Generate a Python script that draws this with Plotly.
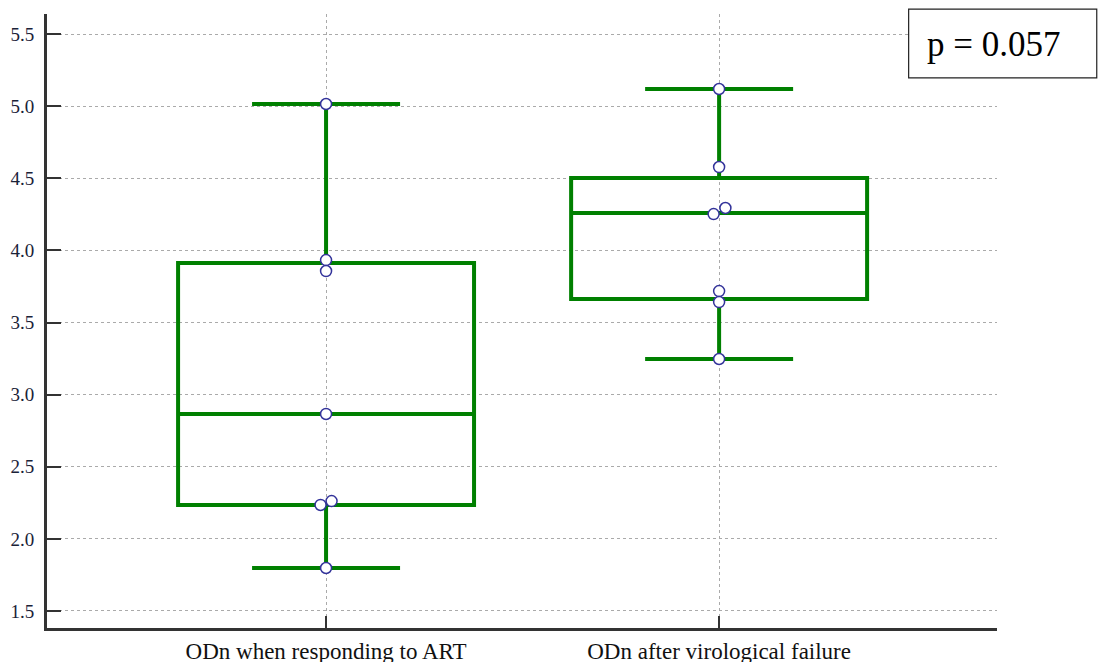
import plotly.graph_objects as go

categories = ["ODn when responding to ART", "ODn after virological failure"]

# observed values
resp_values = [5.015, 3.933, 3.857, 2.866, 2.262, 2.235, 1.798]
fail_values = [5.119, 4.578, 4.294, 4.252, 3.718, 3.642, 3.247]

# box statistics (as drawn)
q1 = [2.235, 3.663]
median = [2.866, 4.259]
q3 = [3.912, 4.502]
lower_fence = [1.798, 3.247]
upper_fence = [5.015, 5.119]

# small horizontal nudges for overlapping points (in category units)
resp_dx = [0, 0, 0, 0, 0.014, -0.014, 0]
fail_dx = [0, 0, 0.016, -0.014, 0, 0, 0]

p_text = "p = 0.057"

GREEN = "#008000"
SERIF = "Liberation Serif, Times New Roman, serif"

fig = go.Figure()

fig.add_trace(go.Box(
    x=[0, 1],
    q1=q1, median=median, q3=q3,
    lowerfence=lower_fence, upperfence=upper_fence,
    width=0.753,
    whiskerwidth=0.5,
    fillcolor="rgba(0,0,0,0)",
    line=dict(color=GREEN, width=4),
    boxpoints=False,
    showlegend=False,
    hoverinfo="skip",
))

for idx, (vals, dx) in enumerate([(resp_values, resp_dx), (fail_values, fail_dx)]):
    fig.add_trace(go.Scatter(
        x=[idx + d for d in dx],
        y=vals,
        mode="markers",
        marker=dict(size=11, color="white", line=dict(color="#33339a", width=1.5)),
        showlegend=False,
        cliponaxis=False,
    ))

fig.add_shape(type="rect", xref="paper", yref="paper",
              x0=0.907, x1=1.105, y0=0.896, y1=1.008,
              line=dict(color="#222", width=1.2), fillcolor="white", layer="above")
fig.add_annotation(text=p_text, xref="paper", yref="paper",
                   x=0.997, y=0.951, showarrow=False,
                   xanchor="center", yanchor="middle",
                   font=dict(family=SERIF, size=35, color="#000"))

# the page body adds an 8px offset; margins compensate so the plot area lands
# at x 47..997, y 14..628 of the window
fig.update_layout(
    width=1107, height=662,
    margin=dict(l=39, r=118, t=6, b=42),
    paper_bgcolor="white", plot_bgcolor="white",
    showlegend=False,
)

fig.update_xaxes(
    range=[-0.710, 1.707],
    tickvals=[0, 1], ticktext=categories,
    showline=True, linecolor="#333", linewidth=3,
    ticks="inside", ticklen=12, tickwidth=2, tickcolor="#333",
    showgrid=True, gridcolor="#aaa", griddash="dot", gridwidth=1,
    zeroline=False, automargin=False,
    tickfont=dict(family=SERIF, size=23, color="#111"),
)
fig.update_yaxes(
    range=[1.382, 5.639],
    tickvals=[1.5, 2.0, 2.5, 3.0, 3.5, 4.0, 4.5, 5.0, 5.5],
    tickformat=".1f",
    showline=True, linecolor="#333", linewidth=3,
    ticks="inside", ticklen=14, tickwidth=2, tickcolor="#333",
    showgrid=True, gridcolor="#aaa", griddash="dot", gridwidth=1,
    zeroline=False, automargin=False,
    ticklabelstandoff=6,
    tickfont=dict(family=SERIF, size=19, color="#1a2238"),
)

fig.write_html("out.html")
